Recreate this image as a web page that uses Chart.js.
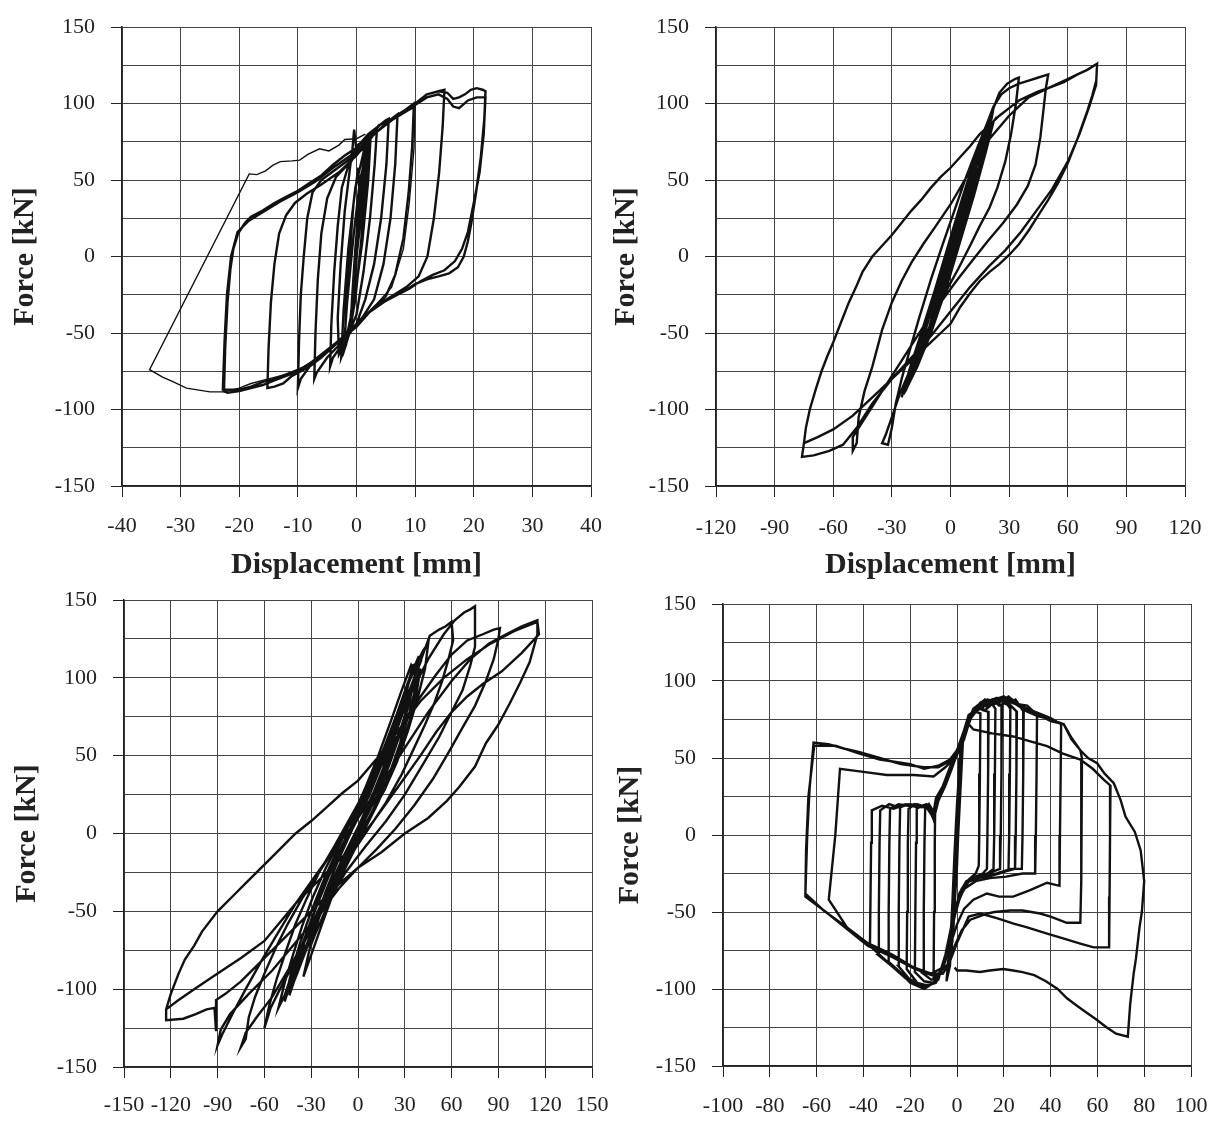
<!DOCTYPE html>
<html lang="en">
<head>
<meta charset="UTF-8" />
<title>Force-displacement hysteresis loops</title>
<script src="https://cdn.jsdelivr.net/npm/chart.js@4.4.0/dist/chart.umd.min.js"></script>
<style>
  body { margin: 0; background: #fff; }
  #page { position: relative; width: 1211px; height: 1121px; overflow: hidden; background: #fff; }
  canvas { position: absolute; }
</style>
</head>
<body>
<div id="page">
  <canvas id="tl" width="640" height="600" style="left:0;top:0"></canvas>
  <canvas id="tr" width="660" height="600" style="left:580px;top:0"></canvas>
  <canvas id="bl" width="640" height="561" style="left:0;top:560px"></canvas>
  <canvas id="br" width="660" height="561" style="left:580px;top:560px"></canvas>
</div>
<script>
// tick labels
const yTicks = [-150, -100, -50, 0, 50, 100, 150];
const xTicksTL = [-40, -30, -20, -10, 0, 10, 20, 30, 40];
const xTicksTR = [-120, -90, -60, -30, 0, 30, 60, 90, 120];
const xTicksBL = [-150, -120, -90, -60, -30, 0, 30, 60, 90, 120, 150];
const xTicksBR = [-100, -80, -60, -40, -20, 0, 20, 40, 60, 80, 100];

// [displacement mm, force kN]
const tlPath = [[0,0],[0.5,30],[1,55],[1.3,68],[0.9,45],[0.2,8],[-0.5,-28],[-1,-48],[-0.8,-30],[-0.2,5],[0.6,40],[1.5,68],[2,76],[1.6,50],[0.8,10],[-0.2,-28],[-1.2,-50],[-2,-60],[-1.8,-35],[-1.2,0],[-0.5,35],[0.3,58],[0.5,40],[1.8,72],[1.2,40],[0,0],[-1,-40],[-2.2,-62],[-1.6,-30],[-0.6,10],[0.6,50],[2.4,78],[2,50],[1,10],[-0.4,-30],[-1.8,-58],[-2.6,-66],[-2.2,-35],[-1.4,5],[-0.2,45],[1.2,68],[1.5,72],[2.8,80],[3.5,84],[3.1,60],[2.3,25],[1.2,-10],[0,-38],[-1.5,-52],[-3,-64],[-3.2,-40],[-2.7,-5],[-2,30],[-1.2,55],[-0.7,70],[-0.4,83],[-0.1,72],[1,75],[2.5,80],[4,86],[5,89],[5.5,90],[5.1,60],[4.2,25],[3,-5],[1.5,-28],[0,-44],[-2,-55],[-4,-66],[-4.5,-72],[-4.3,-45],[-3.8,-10],[-3.2,20],[-2.5,45],[-1.5,58],[0,68],[2,78],[4,86],[6,90],[7,93],[6.6,60],[5.8,25],[4.6,-5],[3,-28],[1,-40],[-1,-48],[-3,-58],[-5,-66],[-6.8,-76],[-7.2,-80],[-7,-50],[-6.6,-15],[-6,15],[-5,38],[-3.5,52],[-1.5,60],[0,68],[2,78],[4,86],[6,90],[8,95],[9.8,100],[9.5,72],[8.9,42],[8,12],[6.6,-12],[5,-26],[3,-33],[0,-46],[-2,-52],[-4,-59],[-6,-66],[-8,-72],[-9.5,-80],[-10,-86],[-9.8,-55],[-9.5,-25],[-9,0],[-8.4,25],[-7.5,42],[-6,50],[-3.5,57],[-1,64],[1,70],[3,80],[6,89],[9,97],[11,103],[12,106],[13,107],[14,108],[15,109],[14.7,85],[14.1,55],[13.2,25],[12.1,0],[10.6,-13],[8.5,-20],[6,-26],[3,-33],[0,-45],[-3,-55],[-6,-66],[-9,-74],[-11,-78],[-12.5,-83],[-14,-85],[-15.2,-86],[-15,-60],[-14.6,-30],[-14,-5],[-13.2,15],[-12,27],[-10.5,35],[-8.5,41],[-6,47],[-3,55],[0,66],[3,80],[6,89],[9,96],[11,103],[12,106],[14,108],[15.5,107],[16.5,103],[17.5,104],[18.5,106],[19.5,109],[20.5,110],[21.5,109],[22,108],[21.8,90],[21.2,65],[20.4,42],[19.6,22],[19,10],[18.3,0],[17.3,-7],[15.8,-11],[14,-13],[12,-15],[10,-18],[8,-23],[6,-27],[4,-31],[2,-37],[0,-46],[-2,-52],[-4,-58],[-6,-64],[-8,-70],[-10,-75],[-12,-78],[-14,-81],[-16,-84],[-18,-86],[-20,-88],[-22,-89],[-22.6,-88],[-22.4,-60],[-22,-30],[-21.5,-8],[-21,5],[-20.2,15],[-19,22],[-18,26],[-16,30],[-14,35],[-12,39],[-10,43],[-8,48],[-6,53],[-4,60],[-2,66],[0,71],[2,80],[4,86],[6,90],[8,95],[10,99],[12,104],[14,106],[15.5,103],[16.5,98],[17.5,97],[19,102],[20.5,104],[22,104],[21.7,80],[21,55],[20,35],[19,16],[18,5],[16.8,-3],[15,-9],[13,-12],[11,-16],[9,-21],[7,-25],[5,-29],[2,-37],[0,-44],[-3,-55],[-6,-66],[-9,-73],[-12,-77],[-14,-80],[-16,-82],[-18,-85],[-20,-87],[-22,-87],[-22.8,-87],[-22.5,-55],[-22.1,-25],[-21.4,0],[-20.3,16],[-18.5,23],[-16,29],[-13,36],[-10,42],[-7,49],[-4,58],[-1,66],[2,76],[5,87],[8,94],[10,98]];
const tlTail = [[10,98],[9.8,70],[9,35],[8,5],[6,-20],[3,-33],[0,-45],[-3,-55],[-6,-65],[-9,-72],[-12,-77],[-15,-80],[-18,-83],[-20,-86],[-22.5,-88.5],[-25,-88.5],[-29,-86],[-31.5,-81.5],[-33,-79],[-35.3,-74],[-18.3,54],[-17,53.5],[-15.5,56],[-14.3,59.5],[-13,62],[-11,62.5],[-9.7,63],[-8.3,66.7],[-6.3,70.4],[-4.7,69],[-3,72.8],[-2,76.5],[0,77],[1.5,80]];

const trPath = [[0,0],[5,20],[10,42],[14,58],[11,44],[5,18],[-2,-10],[-8,-35],[-12,-52],[-9,-37],[-4,-14],[2,12],[8,38],[14,62],[18,76],[15,60],[9,32],[2,2],[-5,-28],[-12,-55],[-18,-72],[-20,-80],[-16,-62],[-10,-36],[-3,-8],[4,22],[10,48],[16,72],[20,84],[22,88],[18,68],[12,40],[5,10],[-2,-20],[-10,-50],[-17,-72],[-22,-85],[-24,-90],[-20,-72],[-14,-48],[-7,-18],[0,12],[7,42],[13,66],[19,86],[16,66],[10,36],[3,6],[-5,-26],[-13,-56],[-19,-76],[-23,-88],[-19,-68],[-12,-40],[-5,-12],[2,16],[9,45],[15,68],[20,84],[16,62],[9,30],[1,-2],[-7,-34],[-15,-62],[-21,-82],[-17,-60],[-10,-30],[-2,0],[6,32],[13,60],[19,86],[12,58],[6,30],[-1,2],[-9,-32],[-16,-58],[-22,-80],[-25,-92],[-21,-74],[-15,-50],[-8,-22],[-1,8],[6,38],[12,62],[17,80],[21,90],[22,97],[25,107],[29,113],[33,116],[35,117],[33.5,100],[31,80],[28,62],[24,45],[20,32],[15,20],[10,7],[4,-8],[-2,-22],[-8,-38],[-14,-55],[-20,-72],[-26,-90],[-30,-105],[-33,-116],[-35,-122],[-32,-123],[-30,-112],[-28,-96],[-25,-80],[-21,-62],[-16,-40],[-10,-15],[-4,8],[2,30],[8,52],[14,72],[19,88],[22,98],[26,106],[30,110],[35,113],[40,115],[45,117],[50,119],[48.8,110],[47.5,95],[46,78],[43.5,60],[39.5,46],[34,34],[27,22],[19,10],[11,-3],[3,-16],[-5,-30],[-13,-44],[-21,-60],[-29,-76],[-35,-88],[-41,-100],[-46,-110],[-50,-118],[-50,-127],[-48,-122],[-47,-105],[-44,-88],[-40,-72],[-35,-48],[-30,-30],[-25,-16],[-20,-4],[-14,8],[-8,19],[0,34],[10,56],[20,77],[30,92],[40,104],[50,110],[58,114],[65,119],[70,122],[75,126],[74.6,115],[72.5,105],[70,95],[65,77],[60,61],[55,48],[50,37],[45,27],[40,17],[35,8],[30,1],[25,-5],[20,-10],[15,-16],[10,-24],[5,-33],[0,-44],[-5,-50],[-10,-56],[-20,-68],[-30,-80],[-40,-92],[-50,-104],[-60,-113],[-68,-118],[-75,-122],[-74,-112],[-72,-100],[-69,-87],[-66,-75],[-63,-65],[-60,-56],[-56,-43],[-52,-30],[-48,-19],[-45,-10],[-40,0],[-35,7],[-30,14],[-25,22],[-20,30],[-15,37],[-10,45],[-5,52],[0,58],[5,65],[10,72],[15,80],[20,86],[25,92],[30,97],[35,102],[40,105],[45,108],[50,110],[55,113],[60,116],[65,119],[70,122],[75,126],[74.5,112],[71,98],[66,80],[60,62],[52,44],[44,30],[36,16],[28,4],[20,-6],[10,-20],[0,-36],[-10,-52],[-20,-66],[-30,-80],[-40,-96],[-48,-112],[-55,-123],[-62,-127],[-70,-130],[-76,-131],[-75,-122]];

const blPath = [[0,0],[6,15],[12,28],[18,42],[20,48],[16,32],[10,16],[3,2],[-5,-14],[-12,-28],[-18,-40],[-20,-46],[-15,-30],[-8,-14],[0,4],[8,22],[16,40],[22,55],[26,64],[30,72],[27,58],[21,40],[13,20],[5,4],[-4,-14],[-13,-32],[-22,-52],[-28,-66],[-31,-74],[-27,-56],[-21,-38],[-13,-18],[-4,2],[5,22],[14,42],[22,60],[29,78],[34,90],[38,100],[40,106],[37.5,90],[33,72],[27,54],[19,34],[11,16],[2,0],[-7,-17],[-16,-34],[-25,-54],[-33,-74],[-39,-90],[-43,-100],[-39,-84],[-33,-64],[-26,-44],[-18,-24],[-8,-3],[2,18],[12,40],[20,60],[27,80],[33,98],[38,110],[42,118],[45,122],[43,106],[38,86],[32,66],[25,46],[17,28],[7,10],[-3,-6],[-13,-24],[-23,-44],[-33,-66],[-41,-86],[-47,-104],[-51,-112],[-47,-96],[-42,-79],[-36,-60],[-29,-41],[-21,-23],[-11,-3],[-1,16],[9,36],[17,56],[25,77],[32,97],[39,114],[36,100],[33,84],[27,64],[20,44],[12,24],[3,6],[-6,-12],[-15,-30],[-24,-50],[-32,-70],[-37,-84],[-34,-68],[-28,-50],[-21,-32],[-12,-14],[-3,4],[7,24],[15,44],[23,64],[30,84],[36,100],[32,82],[25,60],[17,40],[8,20],[-1,2],[-10,-16],[-19,-36],[-28,-58],[-36,-80],[-44,-104],[-40,-88],[-34,-68],[-27,-48],[-19,-28],[-10,-10],[0,10],[10,32],[18,52],[26,72],[33,92],[40,110],[35,108],[30,86],[24,66],[16,46],[8,28],[-1,10],[-10,-8],[-19,-28],[-28,-50],[-36,-72],[-42,-92],[-47,-108],[-43,-90],[-37,-70],[-30,-50],[-22,-30],[-13,-10],[-4,10],[5,30],[13,50],[21,72],[28,92],[34,108],[38,98],[33,78],[27,58],[20,38],[12,20],[3,2],[-6,-16],[-15,-36],[-23,-58],[-30,-78],[-35,-92],[-31,-74],[-25,-54],[-18,-34],[-9,-14],[0,4],[9,24],[17,44],[24,64],[31,84],[37,102],[42,116],[46,127],[52,131],[56,133],[60,136],[61,124],[58,112],[54,98],[49,84],[43,70],[36,55],[28,38],[18,20],[8,5],[-2,-10],[-12,-26],[-22,-45],[-32,-65],[-42,-85],[-50,-100],[-56,-112],[-60,-125],[-57,-111],[-52,-93],[-46,-75],[-40,-58],[-33,-42],[-25,-25],[-15,-8],[-5,10],[5,28],[15,48],[25,70],[35,92],[45,112],[55,128],[62,137],[68,142],[72,144],[75,146],[75,120],[72,108],[67,92],[60,78],[52,62],[42,45],[30,25],[18,8],[5,-8],[-8,-25],[-20,-45],[-32,-65],[-45,-88],[-55,-105],[-65,-118],[-72,-128],[-75,-137],[-72,-132],[-70,-118],[-66,-105],[-60,-90],[-52,-72],[-45,-58],[-36,-42],[-25,-25],[-12,-5],[0,15],[12,38],[25,62],[38,85],[50,102],[60,115],[70,124],[80,128],[87,131],[91,132],[90,125],[87,112],[82,98],[75,82],[67,68],[58,52],[48,35],[36,18],[24,3],[12,-10],[0,-22],[-12,-35],[-25,-52],[-40,-70],[-55,-88],[-70,-103],[-82,-116],[-88,-126],[-90,-136],[-87,-129],[-80,-115],[-72,-100],[-62,-82],[-52,-65],[-40,-45],[-28,-28],[-15,-10],[0,10],[15,32],[30,55],[45,78],[60,98],[72,112],[84,122],[95,128],[105,133],[115,137],[115,128],[110,110],[104,97],[97,83],[90,70],[82,58],[75,43],[65,30],[57,21],[45,10],[30,0],[15,-12],[0,-22],[-15,-35],[-30,-50],[-45,-65],[-60,-80],[-75,-95],[-85,-103],[-91,-107],[-91,-127],[-92,-112],[-97,-113],[-104,-116],[-112,-119],[-123,-120],[-123,-113],[-120,-103],[-115,-90],[-111,-81],[-105,-72],[-100,-63],[-90,-50],[-80,-40],[-70,-30],[-55,-15],[-40,0],[-30,8],[-20,17],[-10,26],[0,34],[12,48],[25,65],[40,85],[55,100],[70,112],[85,122],[100,130],[115,136],[116,128],[105,116],[92,104],[80,96],[70,88],[60,78],[50,65],[40,50],[30,36],[20,22],[10,8],[0,-5],[-10,-15],[-20,-25],[-30,-35],[-40,-45],[-50,-57],[-60,-69],[-75,-80],[-90,-90],[-105,-100],[-115,-107],[-123,-113]];

const brPath = [[0,0],[0.5,30],[1,50],[0.6,20],[-0.5,-30],[-1.5,-60],[-1,-35],[0,0],[1,45],[2,60],[1.2,30],[0,-10],[-1.5,-50],[-3,-75],[-2,-45],[-1,-10],[0,20],[1.5,55],[-2,-70],[0,-20],[1.5,40],[2.5,60],[0.5,0],[-2.5,-80],[-1,-30],[1,30],[2,55],[-0.5,-10],[-3,-85],[-4.5,-95],[-2,-50],[0.5,15],[2.5,62],[3,68],
  [5,75],[8,80],[10,79],[9.8,40],[9.5,0],[9.3,-20],[8,-25],[5,-29],[2,-35],[0,-45],[-2,-60],[-4,-75],[-6,-86],[-8,-92],[-10,-92],[-9.8,-50],[-9.5,-5],[-9.3,20],[-7,28],[-4,40],[-1,52],[2,62],[4,72],[6,79],
  [9,83],[11,81],[13.5,80],[13.3,40],[13,0],[12.8,-22],[11,-25],[8,-27],[4,-30],[1,-38],[-1,-52],[-3,-68],[-5,-82],[-8,-93],[-11,-94],[-14.4,-90],[-14.2,-50],[-13.9,-5],[-13.6,17],[-12,20],[-10,15],[-9,24],[-6,32],[-3,44],[0,55],[3,67],[6,78],
  [9,84],[12,81],[15,85],[16.4,82],[16.2,40],[15.9,0],[15.6,-22],[13,-25],[9,-27],[5,-30],[2,-36],[0,-46],[-2,-60],[-4,-75],[-7,-90],[-10,-96],[-14,-95],[-18,-89],[-17.8,-50],[-17.5,-5],[-17.2,17],[-15,19],[-12,18],[-10,12],[-8,24],[-5,34],[-2,46],[1,58],[4,70],[7,80],
  [10,86],[13,83],[16,87],[19.2,84],[19,40],[18.7,0],[18.4,-22],[15,-24],[11,-27],[6,-29],[3,-33],[0,-44],[-2,-58],[-5,-78],[-8,-93],[-12,-98],[-17,-96],[-21.5,-87],[-21.3,-50],[-21,-5],[-20.7,17],[-18,20],[-15,18],[-12,19],[-10,11],[-8,22],[-5,33],[-2,45],[1,57],[4,70],[7,81],
  [11,85],[15,88],[18,84],[21,86],[22.8,82],[22.6,40],[22.3,0],[22,-23],[18,-25],[13,-27],[8,-28],[4,-31],[1,-40],[-2,-56],[-5,-78],[-8,-94],[-13,-99],[-19,-96],[-25.1,-85],[-24.9,-50],[-24.6,-5],[-24.3,18],[-21,20],[-17,18],[-13,20],[-10,13],[-8,22],[-5,32],[-2,44],[1,57],[4,70],[7,82],
  [12,88],[16,85],[20,89],[23,84],[25.6,80],[25.4,40],[25.1,0],[24.8,-22],[20,-24],[15,-26],[9,-28],[4,-31],[1,-42],[-2,-58],[-5,-80],[-9,-95],[-14,-100],[-20,-96],[-25,-88],[-29.4,-82],[-29.2,-50],[-28.9,-5],[-28.6,17],[-25,20],[-21,19],[-17,20],[-13,18],[-10,11],[-8,23],[-5,33],[-2,45],[1,58],[4,71],[7,82],
  [12,86],[17,89],[21,85],[25,88],[28.5,80],[28.3,40],[28,0],[27.7,-22],[23,-22],[17,-25],[10,-27],[5,-30],[1,-41],[-2,-58],[-5,-80],[-9,-96],[-15,-99],[-22,-93],[-28,-85],[-33.6,-78],[-33.4,-50],[-33.1,-5],[-32.8,16],[-29,20],[-25,18],[-20,20],[-16,19],[-12,17],[-10,10],[-8,22],[-5,33],[-2,45],[1,58],[4,71],[8,83],
  [13,88],[18,86],[22,90],[26,85],[30,84],[34.2,78],[34,40],[33.7,0],[33.4,-25],[28,-25],[21,-27],[14,-28],[8,-30],[3,-35],[0,-45],[-2,-60],[-5,-80],[-9,-96],[-15,-98],[-22,-92],[-30,-82],[-37.2,-72],[-37,-45],[-36.7,-5],[-36.4,16],[-32,19],[-27,17],[-22,20],[-17,18],[-12,19],[-10,10],[-8,22],[-5,33],[-2,45],[1,58],[4,71],[8,83],
  [14,87],[20,90],[25,85],[30,82],[35,79],[40,76],[44.5,72],[44.3,40],[44,0],[43.8,-33],[38.5,-31],[31,-36],[24,-40],[18,-40],[12.8,-38],[7,-42],[3,-48],[0,-58],[-3,-72],[-6,-86],[-11,-90],[-18.5,-86],[-28.5,-77],[-38.4,-70],[-47,-60],[-54.8,-42],[-52,0],[-50,43],[-40,41],[-30,39],[-18.5,39],[-10,38],[-5,44],[-1,50],[2,58],[4,68],[6,76],
  [10,84],[16,88],[22,87],[28,83],[34,79],[40,74],[45.6,72],[49,63],[52.7,55],[53.4,50],[53.2,10],[53,-30],[52.7,-57],[46.9,-57],[40,-53],[35.5,-51],[28,-49],[22.7,-49],[16,-50],[12.8,-51],[5.7,-55],[2,-62],[-1,-72],[-4,-84],[-8,-90],[-11.4,-90],[-18.5,-86],[-25,-80],[-28.5,-77],[-38.4,-71],[-47,-60],[-57,-49],[-64.8,-38],[-64,0],[-63,30],[-61.3,60],[-55,59],[-48,56],[-42,54],[-33,50],[-24,46],[-14.2,44],[-8,44],[-3,48],[0,52],[3,62],[5,72],
  [7,68.5],[15,66],[24,64],[31,61],[38.5,57.7],[45,53],[52.7,49],[58,43],[62.7,36],[65.6,32],[65.4,0],[65.2,-40],[65,-73],[58.4,-73],[52.7,-70.5],[45,-67],[38.5,-64],[30,-60],[24.2,-57.5],[17,-54],[10,-51],[5,-53],[2.9,-60],[0,-70],[-3,-82],[-6,-90],[-11,-91],[-18,-87],[-28,-79],[-38,-72],[-47,-61],[-56,-50],[-64.8,-40],[-64.5,-10],[-63.5,25],[-61,58],[-52,58],[-42,53],[-33,49],[-20,46],[-14,43],[-8,45],[-3,49],[0,55],[3,68],[5,78],
  [10,82],[15,87],[20,88],[25,85],[30,80],[34.8,77],[38,76],[42,74],[45.6,72],[49,62],[52.7,55],[56,50],[59.9,46.6],[63,40],[67,33.6],[69.9,22.8],[72,12],[76,2],[78.5,-10],[80,-30],[79,-50],[78,-60],[76.5,-80],[75.5,-90],[74,-110],[73,-131],[68,-129],[64,-125],[59.7,-120],[55,-115],[51.4,-111],[47,-106],[43,-100],[38,-95],[33,-91],[28,-89],[24,-88],[19.8,-87],[14,-88],[9.8,-89],[4,-88],[0,-88],[-1,-86]];

const serif = "'Liberation Serif', 'Times New Roman', serif";
const toPts = arr => arr.map(p => ({ x: p[0], y: p[1] }));

function lineSet(arr, width) {
  return {
    data: toPts(arr),
    showLine: true,
    borderColor: '#111',
    borderWidth: width,
    pointRadius: 0,
    pointHoverRadius: 0,
    tension: 0,
    fill: false
  };
}

function makePanel(id, o) {
  const sets = [lineSet(o.path, 2.4)];
  if (o.tail) sets.push(lineSet(o.tail, 1.4));
  new Chart(document.getElementById(id), {
    type: 'scatter',
    data: { datasets: sets },
    options: {
      responsive: false,
      animation: false,
      layout: { padding: o.pad },
      plugins: { legend: { display: false }, tooltip: { enabled: false } },
      scales: {
        x: {
          min: o.xTicks[0],
          max: o.xTicks[o.xTicks.length - 1],
          afterFit: s => { s.height = o.xH; },
          ticks: {
            stepSize: o.xTicks[1] - o.xTicks[0],
            autoSkip: false, maxRotation: 0, padding: o.xPad,
            color: '#222', font: { family: serif, size: 22 }
          },
          grid: { color: '#444', lineWidth: 1, tickLength: 11, tickColor: '#222' },
          border: { color: '#222', width: 1.5 },
          title: {
            display: !!o.xTitle, text: o.xTitle || '', color: '#222',
            font: { family: serif, size: 30, weight: 'bold' },
            padding: { top: 0, bottom: 17 }
          }
        },
        y: {
          min: yTicks[0],
          max: yTicks[yTicks.length - 1],
          afterFit: s => { s.width = o.yW; },
          ticks: {
            stepSize: 25, autoSkip: false, padding: 16,
            color: '#222', font: { family: serif, size: 22, lineHeight: 1 },
            callback: v => yTicks.includes(v) ? String(v) : ''
          },
          grid: {
            color: '#444', lineWidth: 1, tickLength: 11,
            tickColor: c => (c.tick && yTicks.includes(c.tick.value)) ? '#222' : 'rgba(0,0,0,0)'
          },
          border: { color: '#222', width: 1.5 },
          title: {
            display: true, text: 'Force [kN]', color: '#222',
            font: { family: serif, size: 30, weight: 'bold' },
            padding: { top: o.yTitlePad, bottom: 0 }
          }
        }
      }
    }
  });
}

makePanel('tl', { path: tlPath, tail: tlTail, xTicks: xTicksTL, xTitle: 'Displacement [mm]',
  yW: 122, xH: 114, xPad: 16, yTitlePad: 7, pad: { top: 23, right: 49, left: 0, bottom: 0 } });
makePanel('tr', { path: trPath, xTicks: xTicksTR, xTitle: 'Displacement [mm]',
  yW: 136, xH: 114, xPad: 18, yTitlePad: 28, pad: { top: 23, right: 55, left: 0, bottom: 0 } });
makePanel('bl', { path: blPath, xTicks: xTicksBL,
  yW: 124, xH: 54, xPad: 14, yTitlePad: 9, pad: { top: 40, right: 48, left: 0, bottom: 0 } });
makePanel('br', { path: brPath, xTicks: xTicksBR,
  yW: 143, xH: 55, xPad: 16, yTitlePad: 32, pad: { top: 44, right: 49, left: 0, bottom: 0 } });
</script>
</body>
</html>
